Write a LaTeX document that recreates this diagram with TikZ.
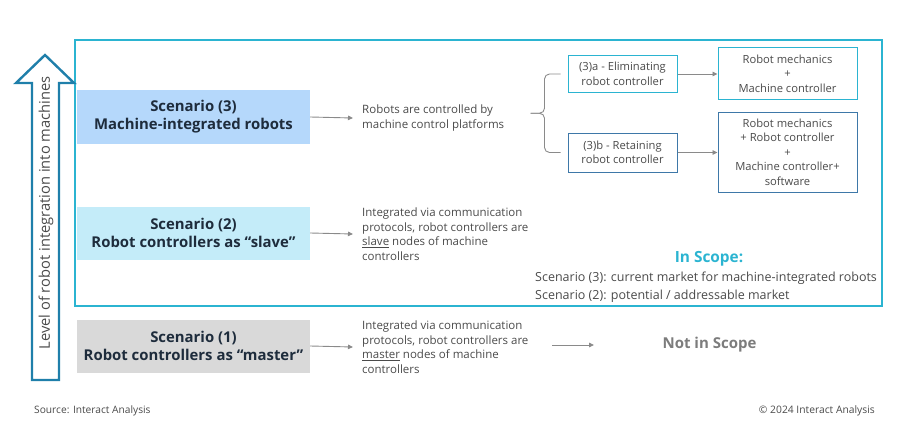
\documentclass[tikz,border=0pt]{standalone}
\usepackage{fontspec}
\setmainfont{Open Sans}
\usetikzlibrary{positioning, arrows.meta, calc}
\definecolor{scopecyan}{HTML}{2BB4D1}
\definecolor{levelblue}{HTML}{1F7FAA}
\definecolor{retainblue}{HTML}{3E78A8}
\definecolor{titlenavy}{HTML}{1E2C3C}
\definecolor{descgray}{HTML}{4A4A4A}
\definecolor{flowgray}{HTML}{8A8A8A}
\definecolor{fillthree}{HTML}{B5D8FB}
\definecolor{filltwo}{HTML}{C4ECF9}
\definecolor{fillone}{HTML}{D9D9D9}
\tikzset{
    scenario/.style={
        minimum width=233pt,
        minimum height=53pt,
        inner sep=0pt,
        align=center,
        text=titlenavy,
        font=\fontsize{14.9}{18}\selectfont\bfseries,
    },
    desc/.style={
        anchor=west,
        inner sep=0pt,
        align=left,
        text=descgray,
        font=\fontsize{11.5}{14.5}\selectfont,
    },
    option/.style={
        draw,
        line width=1pt,
        inner sep=0pt,
        align=center,
        text=descgray,
        font=\fontsize{11.2}{14.5}\selectfont,
    },
    flow/.style={
        draw=flowgray,
        line width=0.9pt,
        -{Triangle[length=5pt,width=4.5pt]},
    },
    bracket/.style={
        draw=flowgray,
        line width=0.9pt,
        rounded corners=5pt,
    },
}

\begin{document}
\begin{tikzpicture}[x=1pt, y=-1pt]
   \useasboundingbox (0,0) rectangle (900,444);
   % scope frame and level arrow
   \draw[scopecyan, line width=2pt] (75,40) rectangle (882,306);
   \draw[levelblue, line width=2.4pt, line join=miter]
      (32,380) -- (32,83) -- (16,83) -- (45,55) -- (74,83) -- (59,83) -- (59,380) -- cycle;
   \node[rotate=90, text=descgray, font=\fontsize{14.7}{17}\selectfont] (level) at (46,213)
      {Level of robot integration into machines};
   % scenarios
   \node[scenario, fill=fillthree] (s3) at (193.5,117) {Scenario (3)\\Machine-integrated robots};
   \node[scenario, fill=filltwo] (s2) at (193.5,233) {Scenario (2)\\Robot controllers as ``slave''};
   \node[scenario, fill=fillone] (s1) at (193.5,346) {Scenario (1)\\Robot controllers as ``master''};
   \node[desc] (d3) at (362,118) {Robots are controlled by\\machine control platforms};
   \node[desc] (d2) at (362,234) {Integrated via communication\\protocols, robot controllers are\\\underline{slave} nodes of machine\\controllers};
   \node[desc] (d1) at (362,347) {Integrated via communication\\protocols, robot controllers are\\\underline{master} nodes of machine\\controllers};
   \draw[flow] (s3.east) -- ([xshift=-9pt]d3.west);
   \draw[flow] (s2.east) -- ([xshift=-9pt]d2.west);
   \draw[flow] (s1.east) -- ([xshift=-9pt]d1.west);
   % machine-integrated options
   \node[option, draw=scopecyan, minimum width=109pt, minimum height=37pt] (a3) at (622.5,74)
      {(3)a - Eliminating\\robot controller};
   \node[option, draw=retainblue, minimum width=109pt, minimum height=39pt] (b3) at (622.5,152.5)
      {(3)b - Retaining\\robot controller};
   \node[option, draw=scopecyan, minimum width=139pt, minimum height=51pt] (ra) at (787.5,73.5)
      {Robot mechanics\\+\\Machine controller};
   \node[option, draw=retainblue, minimum width=139pt, minimum height=80pt] (rb) at (787.5,152)
      {Robot mechanics\\+ Robot controller\\+\\Machine controller+\\software};
   \coordinate (bt) at ([xshift=-7pt]a3.west);
   \coordinate (bb) at ([xshift=-7pt]b3.west);
   \coordinate (bm) at ($(bt)!0.5!(bb)+(-30,0)$);
   \draw[bracket] (bt) -- ++(-16,0) |- (bm);
   \draw[bracket] (bb) -- ++(-16,0) |- (bm);
   \draw[flow] (a3.east) -- (ra.west |- a3.east);
   \draw[flow] (b3.east) -- (rb.west |- b3.east);
   % scope notes
   \node[text=scopecyan, font=\fontsize{15.4}{18}\selectfont\bfseries] (inscope) at (709,259) {In Scope:};
   \node[desc, font=\fontsize{12.5}{14}\selectfont] (scope3) at (535,278)
      {Scenario (3): current market for machine-integrated robots};
   \node[desc, font=\fontsize{12.5}{14}\selectfont] (scope2) at (535,296)
      {Scenario (2): potential / addressable market};
   \coordinate (nsfrom) at (552,345);
   \coordinate (nsto) at (594,345);
   \draw[flow] (nsfrom) -- (nsto);
   \node[text=flowgray!90!black, font=\fontsize{15}{18}\selectfont\bfseries] (notscope) at (709.5,345) {Not in Scope};
   % footer
   \node[desc, font=\fontsize{10.2}{12}\selectfont] (source) at (34,411) {Source: Interact Analysis};
   \node[desc, anchor=east, font=\fontsize{10.3}{12}\selectfont] (copy) at (875,411) {© 2024 Interact Analysis};
\end{tikzpicture}
\end{document}
